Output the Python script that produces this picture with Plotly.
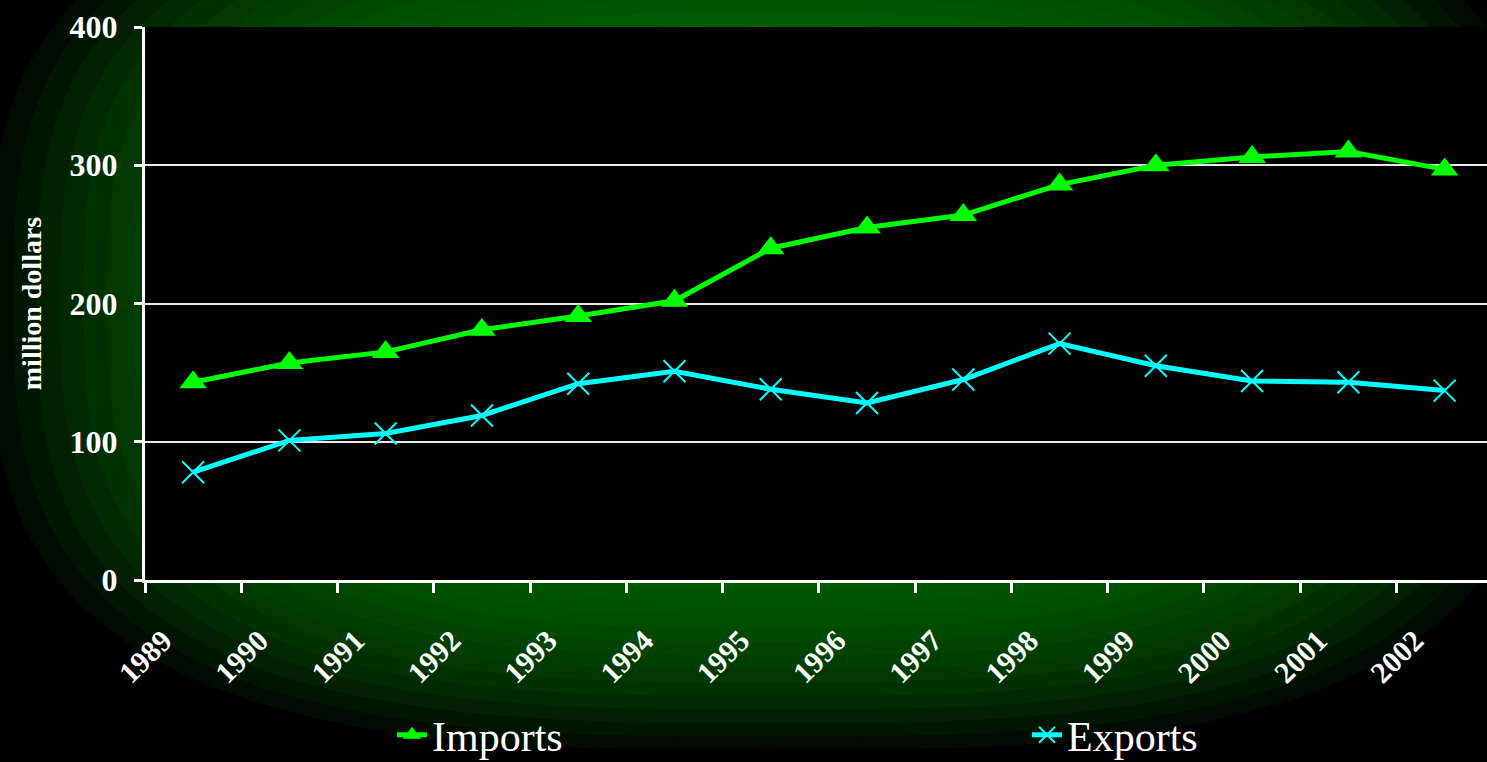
import plotly.graph_objects as go

years = ["1989", "1990", "1991", "1992", "1993", "1994", "1995",
         "1996", "1997", "1998", "1999", "2000", "2001", "2002"]
imports = [143, 157, 165, 181, 191, 202, 240, 255, 264, 286, 300, 306, 310, 297]
exports = [78, 101, 106, 119, 142, 151, 138, 128, 145, 171, 155, 144, 143, 137]

W, H = 1487, 762
L, R, T, B = 145, 0, 27, 182
pw, ph = W - L - R, H - T - B


def px(x):
    return (x - L) / pw


def py(y):
    return (H - B - y) / ph


def superellipse_path(cx, cy, rx, ry, p=3, n=120):
    import math
    pts = []
    for k in range(n):
        a = 2 * math.pi * k / n
        c, s = math.cos(a), math.sin(a)
        x = cx + rx * (abs(c) ** (2 / p)) * (1 if c >= 0 else -1)
        y = cy + ry * (abs(s) ** (2 / p)) * (1 if s >= 0 else -1)
        pts.append((px(x), py(y)))
    return "M " + " L ".join(f"{a:.5f},{b:.5f}" for a, b in pts) + " Z"


shapes = []
# soft green glow behind the chart
gcx, gcy = 770, 300
grx, gry = 780, 450
n = 16
for i in range(n):
    t = 1.0 - i * (0.45 / (n - 1))
    shapes.append(dict(type="path", xref="paper", yref="paper", layer="below",
                       path=superellipse_path(gcx, gcy, grx * t, gry * t),
                       fillcolor="rgba(0,130,0,0.09)", line=dict(width=0)))
shapes.append(dict(type="rect", xref="paper", yref="paper", layer="below",
                   x0=0, x1=1, y0=0, y1=1, fillcolor="black", line=dict(width=0)))

fig = go.Figure()
fig.add_trace(go.Scatter(
    x=years, y=imports, name="Imports", mode="lines+markers",
    line=dict(color="#00ff00", width=5),
    marker=dict(symbol="triangle-up", size=24, color="#00ff00"),
))
fig.add_trace(go.Scatter(
    x=years, y=exports, name="Exports", mode="lines+markers",
    line=dict(color="#00ffff", width=5),
    marker=dict(symbol="x-thin-open", size=22, color="#00ffff",
                line=dict(color="#00ffff", width=2)),
))

serif = "Liberation Serif, Times New Roman, serif"
fig.update_layout(
    width=W, height=H,
    margin=dict(l=L, r=R, t=T, b=B, autoexpand=False),
    paper_bgcolor="black", plot_bgcolor="black",
    shapes=shapes,
    showlegend=True,
    legend=dict(orientation="h", x=px(392), xanchor="left", y=py(735), yanchor="middle",
                font=dict(family=serif, size=42, color="white"),
                bgcolor="rgba(0,0,0,0)", entrywidth=590, entrywidthmode="pixels",
                traceorder="normal"),
    xaxis=dict(type="category", range=[-0.5, 13.44], tickson="boundaries",
               showgrid=False, showline=True, linecolor="white", linewidth=3,
               ticks="outside", ticklen=10, tickwidth=3, tickcolor="white",
               tickangle=-45, ticklabelstandoff=28, ticklabelshift=-30,
               tickfont=dict(family=serif, size=30, color="white", weight="bold"),
               zeroline=False),
    yaxis=dict(range=[0, 400], dtick=100, showgrid=True, gridcolor="#e8e8e8", gridwidth=2,
               showline=True, linecolor="white", linewidth=3,
               ticks="outside", ticklen=8, tickwidth=3, tickcolor="white",
               ticklabelstandoff=10,
               tickfont=dict(family=serif, size=32, color="white", weight="bold"),
               title=dict(text="million dollars", standoff=20,
                          font=dict(family=serif, size=28, color="white", weight="bold")),
               zeroline=False),
)

fig.write_html("out.html", config={"displayModeBar": False},
               post_script="document.body.style.margin='0';document.body.style.overflow='hidden';")
